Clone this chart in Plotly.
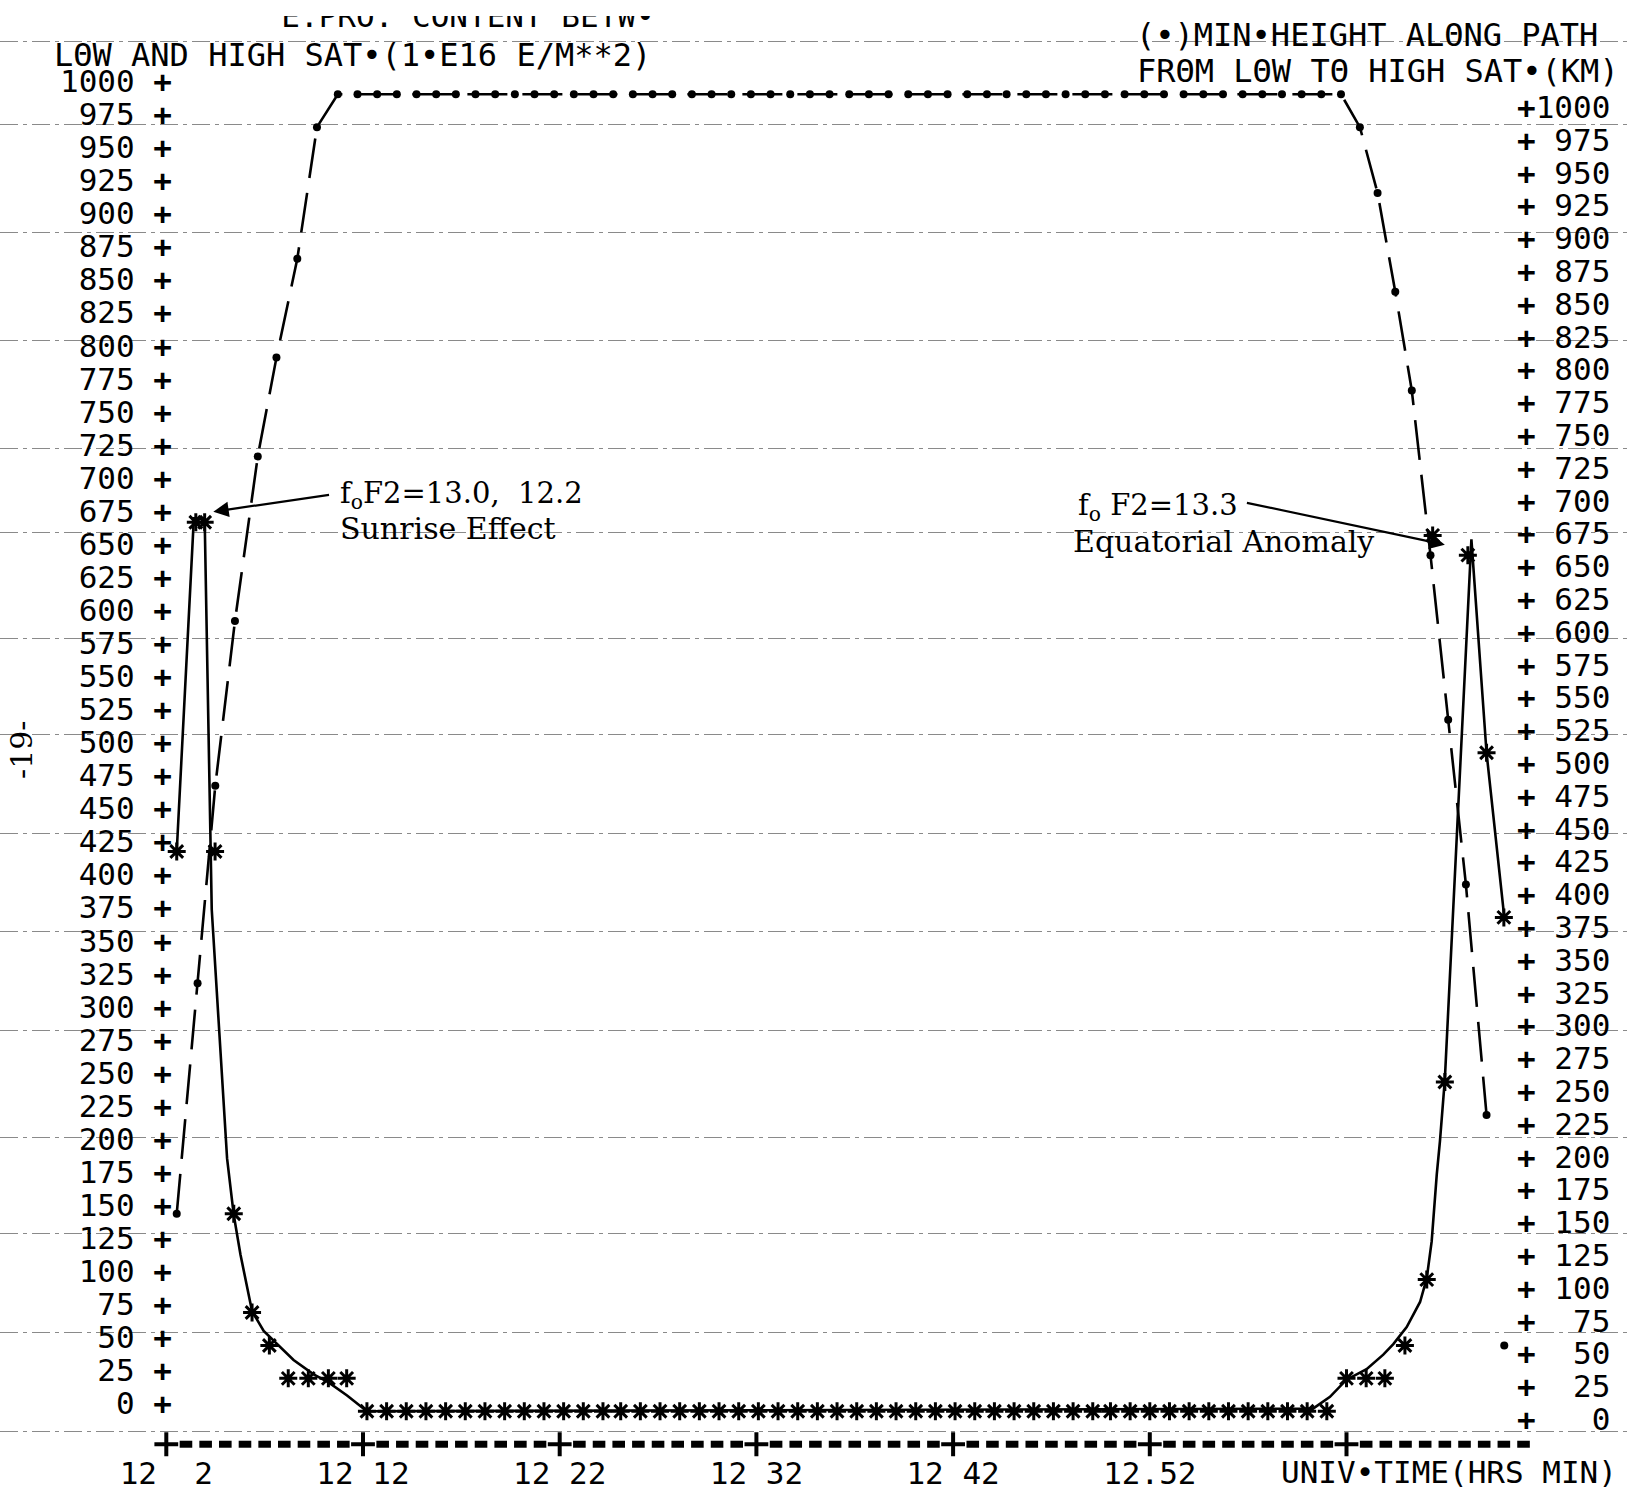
import plotly.graph_objects as go

NB = "\u00a0"
W, H = 1630, 1506
MONO = "DejaVu Sans Mono"
SERIF = "DejaVu Serif"

# ---------------- data ----------------
# (*) electron content between low and high satellite (1E16 el/m^2)
star_t = [2.53, 3.50, 3.95, 4.48, 5.43, 6.36, 7.24, 8.20, 9.22, 10.24, 11.17,
          12.2, 13.2, 14.2, 15.2, 16.2, 17.2, 18.2, 19.2, 20.2, 21.2, 22.2, 23.2,
          24.2, 25.1, 26.1, 27.1, 28.1, 29.1, 30.1, 31.1, 32.1, 33.1, 34.1, 35.1,
          36.1, 37.1, 38.1, 39.1, 40.1, 41.1, 42.1, 43.1, 44.1, 45.1, 46.1, 47.1,
          48.1, 49.1, 50.0, 51.0, 52.0, 53.0, 54.0, 55.0, 56.0, 57.0, 58.0, 59.0,
          60.0, 61.0,
          62.0, 63.0, 63.95, 64.97, 66.08, 66.38, 67.0, 68.17, 69.12, 70.0]
star_v = [425, 675, 675, 425, 150, 75, 50, 25, 25, 25, 25,
          0, 0, 0, 0, 0, 0, 0, 0, 0, 0, 0, 0,
          0, 0, 0, 0, 0, 0, 0, 0, 0, 0, 0, 0,
          0, 0, 0, 0, 0, 0, 0, 0, 0, 0, 0, 0,
          0, 0, 0, 0, 0, 0, 0, 0, 0, 0, 0, 0,
          0, 0,
          25, 25, 25, 50, 100, 665, 250, 650, 500, 375]

# hand-drawn solid curve through the (*) points
curve_t = [2.53, 3.40, 3.95, 4.25, 4.31, 5.09, 5.43, 5.77, 6.36, 6.95, 7.63,
           8.47, 9.49, 10.25, 11.19, 12.2, 60.3, 61.16, 62.0, 63.02, 63.87,
           64.38, 65.06, 65.74, 66.08, 66.33, 66.59, 66.75, 67.0, 68.35,
           69.12, 70.0]
curve_v = [425, 678, 678, 425, 381, 192, 149, 119, 76, 61, 51,
           39, 28, 22, 12, 0, 2, 11, 24, 32, 43,
           51, 64, 83, 101, 129, 180, 205, 252, 662,
           500, 378]

# (.) minimum height along path from low to high satellite (km)
dot_t = [2.53, 3.59, 4.49, 5.49, 6.65, 7.60, 8.66, 9.66,
         10.72, 11.72, 12.72, 13.72, 14.72, 15.72, 16.72, 17.72, 18.72, 19.72,
         20.72, 21.72, 22.72, 23.72, 24.72, 25.72, 26.72, 27.72, 28.72, 29.72,
         30.72, 31.72, 32.72, 33.72, 34.72, 35.72, 36.72, 37.72, 38.72, 39.72,
         40.72, 41.72, 42.72, 43.72, 44.72, 45.72, 46.72, 47.72, 48.72, 49.72,
         50.72, 51.72, 52.72, 53.72, 54.72, 55.72, 56.72, 57.72, 58.72, 59.72,
         60.72, 61.72,
         62.68, 63.58, 64.48, 65.32, 66.27, 67.17, 68.07, 69.12, 70.02]
dot_v = [150, 325, 475, 600, 725, 800, 875, 975,
         1000, 1000, 1000, 1000, 1000, 1000, 1000, 1000, 1000, 1000,
         1000, 1000, 1000, 1000, 1000, 1000, 1000, 1000, 1000, 1000,
         1000, 1000, 1000, 1000, 1000, 1000, 1000, 1000, 1000, 1000,
         1000, 1000, 1000, 1000, 1000, 1000, 1000, 1000, 1000, 1000,
         1000, 1000, 1000, 1000, 1000, 1000, 1000, 1000, 1000, 1000,
         1000, 1000,
         975, 925, 850, 775, 650, 525, 400, 225, 50]
n_dashed = len(dot_t) - 1          # last dot is not joined by the hand line

# axis ticks / labels
y_ticks = list(range(0, 1001, 25))
left_labels = [f"{v}{NB}<b>+</b>" for v in y_ticks]
right_labels = [f"<b>+</b>{str(v).rjust(4, NB)}" for v in y_ticks]
x_ticks = [2, 12, 22, 32, 42, 52]
x_labels = ["12" + NB + NB + "2", "12" + NB + "12", "12" + NB + "22",
            "12" + NB + "32", "12" + NB + "42", "12.52"]
row_plus = [2, 12, 22, 32, 42, 52, 62]
row_dash = [m for m in range(3, 72) if (m - 2) % 10 != 0]
row_level = -25
paper_rules = [1040, 977, 895, 813, 731, 667, 587, 514, 439, 364, 289, 208, 135, 60, -15]

# pixel -> axis mappings (the scanned page is slightly rotated, so the two
# printed scales sit at slightly different heights)
px_per_min = 19.67
x0_px = 166.3            # pixel of 12:02
xr = [2 - x0_px / px_per_min, 2 + (W - x0_px) / px_per_min]
yl = [-(H - 1403.5) / 1.3223, 1403.5 / 1.3223]     # left printed scale
yr = [-(H - 1419.1) / 1.312, 1000 + 107.1 / 1.312]  # right printed scale
ym = [-(H - 1411.3) / 1.3171, 1411.3 / 1.3171]     # data rows (mid page)

# ---------------- figure ----------------
fig = go.Figure()

# carriers so every scale is drawn
fig.add_trace(go.Scatter(x=[None], y=[None], yaxis="y", hoverinfo="skip"))
fig.add_trace(go.Scatter(x=[None], y=[None], yaxis="y2", hoverinfo="skip"))

# hand-drawn dashed line through the dots
fig.add_trace(go.Scatter(x=dot_t[:n_dashed], y=dot_v[:n_dashed], yaxis="y3",
                         mode="lines", line=dict(color="black", width=2.6, dash="40px,15px"),
                         hoverinfo="skip"))
# hand-drawn solid curve
fig.add_trace(go.Scatter(x=curve_t, y=curve_v, yaxis="y3", mode="lines",
                         line=dict(color="black", width=2.6), hoverinfo="skip"))
# printed dots
fig.add_trace(go.Scatter(x=dot_t, y=dot_v, yaxis="y3", mode="markers",
                         marker=dict(symbol="circle", size=8, color="black")))
# printed asterisks
fig.add_trace(go.Scatter(x=star_t, y=star_v, yaxis="y3", mode="markers",
                         marker=dict(symbol="asterisk-open", size=15, color="black",
                                     line=dict(color="black", width=3))))
# printed time-axis row  +---------+---------+
fig.add_trace(go.Scatter(x=row_dash, y=[row_level] * len(row_dash), yaxis="y3",
                         mode="markers",
                         marker=dict(symbol="line-ew", size=9, color="black",
                                     line=dict(color="black", width=7))))
fig.add_trace(go.Scatter(x=row_plus, y=[row_level] * len(row_plus), yaxis="y3",
                         mode="markers",
                         marker=dict(symbol="cross-thin", size=17, color="black",
                                     line=dict(color="black", width=4))))

# first header line of the printout (its upper half is cut off on the scan)
cut_x = xr[0] + 468 / px_per_min
cut_y = ym[1] - 19 / 1.3171
fig.add_trace(go.Scatter(x=[cut_x], y=[cut_y], yaxis="y3", mode="text",
                         text=["E.PRO." + NB + "CONTENT" + NB + "BETW•"],
                         textposition="middle center",
                         textfont=dict(family=MONO, size=31, color="black"),
                         hoverinfo="skip", cliponaxis=False))

tickfont = dict(family=MONO, size=31, color="black")
fig.update_layout(
    width=W, height=H, template="none",
    margin=dict(l=0, r=0, t=0, b=0, pad=0),
    paper_bgcolor="white", plot_bgcolor="white", showlegend=False,
    xaxis=dict(domain=[0, 1], range=xr, anchor="free", position=(H - 1452) / H,
               tickmode="array", tickvals=x_ticks, ticktext=x_labels,
               ticks="", showline=False, showgrid=False, zeroline=False,
               tickfont=tickfont),
    yaxis=dict(domain=[0, 1], range=yl, anchor="free", position=172 / W, side="left",
               tickmode="array", tickvals=y_ticks, ticktext=left_labels,
               ticks="", showline=False, showgrid=False, zeroline=False,
               tickfont=tickfont),
    yaxis2=dict(domain=[0, 1], range=yr, anchor="free", position=1516 / W, side="right",
                overlaying="y", tickmode="array", tickvals=y_ticks, ticktext=right_labels,
                ticks="", showline=False, showgrid=False, zeroline=False,
                tickfont=tickfont),
    yaxis3=dict(domain=[0, 1], range=ym, anchor="free", position=0, overlaying="y",
                tickmode="array", tickvals=paper_rules, showticklabels=False,
                ticks="", showline=False, zeroline=False, showgrid=True,
                gridcolor="rgba(60,60,60,0.6)", gridwidth=1.2, griddash="18px,5px,4px,5px"),
)

def ptxt(text, x, y, size, family=MONO, xanchor="center", angle=0):
    fig.add_annotation(text=text, xref="paper", yref="paper", x=x / W, y=1 - y / H,
                       xanchor=xanchor, yanchor="middle", showarrow=False,
                       textangle=angle, font=dict(family=family, size=size, color="black"))

# printed headers
ptxt("LΘW AND HIGH SAT•(1•E16 E/M**2)".replace(" ", NB), 352, 55, 32)
ptxt("(•)MIN•HEIGHT ALΘNG PATH".replace(" ", NB), 1367, 35, 32)
ptxt("FRΘM LΘW TΘ HIGH SAT•(KM)".replace(" ", NB), 1378, 71, 32)
ptxt("UNIV•TIME(HRS MIN)".replace(" ", NB), 1279, 1472, 31, xanchor="left")

# hand-written notes
ptxt("f<sub>o</sub>F2=13.0,  12.2", 338, 495, 29, SERIF, xanchor="left")
ptxt("Sunrise Effect", 338, 528, 30, SERIF, xanchor="left")
ptxt("f<sub>o</sub> F2=13.3", 1076, 507, 29, SERIF, xanchor="left")
ptxt("Equatorial Anomaly", 1071, 541, 30, SERIF, xanchor="left")
ptxt("-19-", 21, 750, 30, SERIF, angle=-90)

# arrows
fig.add_annotation(text="", x=4.39, y=683, xref="x", yref="y3",
                   ax=10.35, ay=696, axref="x", ayref="y3", showarrow=True,
                   arrowhead=2, arrowsize=1.4, arrowwidth=2.2, arrowcolor="black")
fig.add_annotation(text="", x=67.0, y=658, xref="x", yref="y3",
                   ax=56.86, ay=690, axref="x", ayref="y3", showarrow=True,
                   arrowhead=2, arrowsize=1.4, arrowwidth=2.2, arrowcolor="black")

# the top of the printout is cut off on the scan
fig.add_shape(type="rect", xref="paper", yref="paper", x0=240 / W, x1=700 / W,
              y0=1 - 16 / H, y1=1.01, fillcolor="white", line=dict(width=0), layer="above")

fig.write_html("out.html", config={"displayModeBar": False},
               post_script="document.body.style.margin='0';document.body.style.overflow='hidden';")
